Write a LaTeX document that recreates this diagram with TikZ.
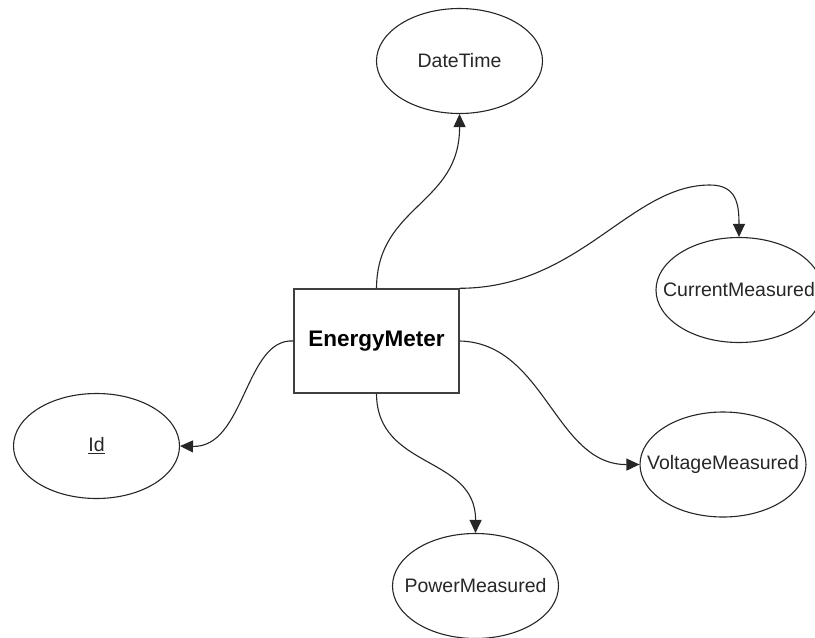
\documentclass[tikz,border=0pt]{standalone}
\usepackage{fontspec}
\setmainfont{Liberation Sans}
\usetikzlibrary{shapes.geometric,arrows.meta}
\newcommand{\zerow}[1]{\makebox[0pt]{#1}}
\begin{document}
\begin{tikzpicture}[x=1pt,y=-1pt,
  attr/.style={draw=black!85,line width=1.1pt,ellipse,inner sep=0pt,
    minimum width=166pt,minimum height=105pt,font=\fontsize{19.5}{22}\selectfont,text=black!85},
  entity/.style={draw=black!75,line width=1.4pt,rectangle,inner sep=0pt,
    minimum width=165pt,minimum height=104pt,font=\bfseries\fontsize{22.5}{26}\selectfont},
  conn/.style={line width=1.1pt,draw=black!85,-{Triangle[length=13pt,width=12pt]}}]
\useasboundingbox (0,0) rectangle (815,638);
\node[entity] (em) at (376.5,341) {EnergyMeter};
\node[attr] (dt) at (459.5,61) {\zerow{DateTime}};
\node[attr] (cm) at (739,290) {\zerow{CurrentMeasured}};
\node[attr] (id) at (96.5,446) {\zerow{\underline{Id}}};
\node[attr] (vm) at (723,464.5) {\zerow{VoltageMeasured}};
\node[attr] (pm) at (475.5,586) {\zerow{PowerMeasured}};
\draw[conn] (em.north) .. controls (377,205) and (460,205) .. (dt.south);
\draw[conn] (em.north east) .. controls (580,288) and (630,185) .. (710,185) .. controls (737,185) and (739,205) .. (cm.north);
\draw[conn] (em.west) .. controls (245,338) and (245,448) .. (id.east);
\draw[conn] (em.east) .. controls (545,343) and (555,465) .. (vm.west);
\draw[conn] (em.south) .. controls (377,470) and (476,455) .. (pm.north);
\end{tikzpicture}
\end{document}
